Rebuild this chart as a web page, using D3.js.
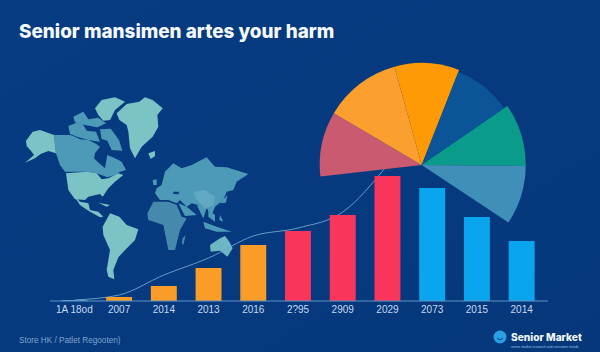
<!DOCTYPE html>
<html>
<head>
<meta charset="utf-8">
<script src="https://cdnjs.cloudflare.com/ajax/libs/d3/7.8.5/d3.min.js"></script>
<style>
  html, body { margin: 0; padding: 0; background: #083a80; }
  svg { display: block; }
</style>
</head>
<body>
<svg width="600" height="352"></svg>
<script>
// bar chart data
const years = ['1A 18od', '2007', '2014', '2013', '2016', '2?95', '2909', '2029', '2073', '2015', '2014'];
const barValues = [1, 4, 15, 33, 56, 70, 86, 125, 113, 84, 60];
const barGroups = ['blue', 'orange', 'orange', 'orange', 'orange', 'red', 'red', 'red', 'blue', 'blue', 'blue'];
// thin trend line, stops behind the tallest bar
const trendValues = [1, 6, 26, 43, 65, 73, 89, 136];
// fan chart data (slice sizes and reach)
const sliceValues = [37, 44, 37, 34, 35, 33];
const sliceReach = [102, 102, 102, 100, 104, 104];
const sliceColors = ['#c95a70', '#fb9f2e', '#fe9a05', '#0b5498', '#0b9b8b', '#3f8fb8'];

// world map outlines, traced in three pieces. each piece has its own origin
const northLight = [
  [[18,152],[38,125],[60,120],[102,135],[108,190],[85,183],[62,192],[45,205],[15,218],[42,195],[35,185],[20,168]], // alaska
  [[225,55],[245,30],[285,22],[315,35],[285,60],[270,90],[250,92],[235,75]], // baffin
  [[290,70],[320,42],[358,35],[375,22],[398,30],[428,55],[412,75],[415,110],[398,140],[365,170],[345,205],[330,175],[325,125],[320,105],[298,90]], // greenland
  [[385,190],[405,183],[405,198],[392,207]], // iceland
  [[138,250],[200,245],[230,250],[245,268],[265,265],[295,250],[310,255],[285,275],[265,295],[248,320],[240,312],[205,320],[195,330],[165,328],[145,300]] // usa
];
const northMid = [
  [[102,135],[150,135],[165,140],[180,148],[205,150],[225,160],[240,170],[225,190],[222,205],[240,222],[255,235],[262,195],[285,205],[305,215],[318,240],[300,245],[285,255],[262,262],[230,250],[200,245],[135,245],[120,225],[108,190]], // canada
  [[145,108],[175,96],[190,105],[200,122],[228,125],[240,155],[205,150],[175,142],[150,132]], // arctic islands
  [[160,80],[190,65],[205,88],[235,83],[258,100],[232,112],[195,105],[165,97]],
  [[240,118],[272,116],[297,150],[307,182],[275,180],[262,152],[245,147]]
];
const southLight = [
  [[128,170],[150,130],[178,140],[200,165],[235,178],[225,210],[195,240],[175,262],[160,300],[163,328],[145,320],[140,300],[150,240],[130,195]], // south america
  [[40,75],[60,95],[85,100],[90,120],[115,125],[130,140],[120,142],[90,125],[60,105]], // central america
  [[115,98],[150,105],[140,110]] // cuba
];
const eastMid = [
  [[50,115],[65,105],[75,65],[100,40],[125,55],[155,45],[200,22],[225,50],[260,52],[325,72],[290,95],[280,120],[260,125],[250,150],[225,170],[215,195],[200,175],[185,195],[175,165],[155,160],[140,170],[120,150],[110,160],[85,150],[60,150],[45,130]], // eurasia
  [[115,160],[140,170],[170,195],[135,198]], // arabia
  [[170,165],[200,175],[190,205]], // india
  [[205,180],[225,195],[225,215],[205,200]], // south east asia
  [[190,215],[230,230],[275,245],[230,245],[195,235]], // indonesia
  [[240,195],[250,215],[238,210]],
  [[240,160],[262,135],[258,158]], // japan
  [[38,90],[50,88],[50,105],[40,105]] // britain
];
const eastDark = [
  [[22,190],[40,155],[85,155],[110,165],[125,200],[140,205],[120,240],[105,300],[85,300],[75,250],[70,225],[25,210]], // africa
  [[128,265],[137,255],[130,285],[125,280]] // madagascar
];
const eastPale = [
  [[160,125],[195,120],[225,140],[220,165],[195,175],[170,150]] // china
];
const eastLight = [
  [[210,285],[240,265],[255,258],[268,275],[278,295],[262,320],[240,302],[212,305]] // australia
];
const seaHoles = [
  [[100,125],[118,125],[115,133],[100,132]] // black sea
];

const svg = d3.select('svg');
const width = 600;
const height = 352;

// background
const defs = svg.append('defs');
const bg = defs.append('linearGradient').attr('id', 'bg').attr('x1', 0).attr('y1', 0).attr('x2', 1).attr('y2', 1);
bg.append('stop').attr('offset', '0%').attr('stop-color', '#073c82');
bg.append('stop').attr('offset', '100%').attr('stop-color', '#06377b');
defs.append('filter').attr('id', 'soft').append('feGaussianBlur').attr('stdDeviation', 0.4);
svg.append('rect').attr('width', width).attr('height', height).attr('fill', 'url(#bg)');

// title
svg.append('text').attr('x', 19).attr('y', 37.5)
  .text('Senior mansimen artes your harm')
  .style('font-family', 'Inter, "Open Sans", sans-serif')
  .style('font-weight', '800').style('font-size', '18.9px').style('fill', '#f4f8fb');

// map
const map = svg.append('g').attr('filter', 'url(#soft)');
function drawLand(shapes, color, originX, originY) {
  const mapX = d3.scaleLinear().domain([0, 3]).range([originX, originX + 1]);
  const mapY = d3.scaleLinear().domain([0, 3]).range([originY, originY + 1]);
  const outline = d3.line().x(d => mapX(d[0])).y(d => mapY(d[1])).curve(d3.curveLinearClosed);
  map.selectAll(null).data(shapes).enter().append('path')
    .attr('d', outline).attr('fill', color);
}
drawLand(northMid, '#4d9ab8', 20, 90);
drawLand(northLight, '#7cc3c6', 20, 90);
drawLand(southLight, '#7cc3c6', 60, 170);
drawLand(eastMid, '#4d9ab8', 140, 150);
drawLand(eastDark, '#4489ad', 140, 150);
drawLand(eastPale, '#63a8c2', 140, 150);
drawLand(eastLight, '#6db6c4', 140, 150);
drawLand(seaHoles, '#073a80', 140, 150);

// bars
const x = d3.scaleBand().domain(d3.range(years.length)).range([52, 544]).paddingInner(0.42).paddingOuter(0.21);
const y = d3.scaleLinear().domain([0, 125]).range([301, 176]);
const barColor = d3.scaleOrdinal().domain(['orange', 'red', 'blue']).range(['#f99c28', '#f9355c', '#0aa5ef']);

// trend line behind the bars
const trend = d3.line().x((d, i) => x(i) + x.bandwidth() / 2).y(d => y(d)).curve(d3.curveMonotoneX);
svg.append('path').datum(trendValues).attr('d', trend)
  .attr('fill', 'none').attr('stroke', '#6fa6cf').attr('stroke-width', 0.9);

svg.selectAll('.bar').data(barValues).enter().append('rect')
  .attr('class', 'bar')
  .attr('x', (d, i) => x(i)).attr('width', x.bandwidth())
  .attr('y', d => y(d)).attr('height', d => y(0) - y(d))
  .attr('fill', (d, i) => i === 0 ? '#5ea6cf' : barColor(barGroups[i]));

// axis, the line runs a bit past the band range
const axis = d3.axisBottom(x).tickSize(0).tickPadding(5).tickFormat(i => years[i]);
const axisG = svg.append('g').attr('transform', 'translate(0,301)').call(axis);
axisG.select('.domain').attr('d', 'M50,0H548').attr('stroke', '#5f93c4').attr('stroke-width', 1);
axisG.selectAll('text')
  .style('font-family', '"Liberation Sans", sans-serif')
  .style('font-size', '10px').style('fill', '#c6d9ee');

// fan chart
const pie = d3.pie().sort(null).value(d => d)
  .startAngle(-96.5 * Math.PI / 180).endAngle(123.5 * Math.PI / 180);
const arc = d3.arc().innerRadius(0).outerRadius((d, i) => sliceReach[i]);
svg.append('g').attr('transform', 'translate(421.7,165)')
  .selectAll('path').data(pie(sliceValues)).enter().append('path')
  .attr('d', arc).attr('fill', (d, i) => sliceColors[i]);

// source note
svg.append('text').attr('x', 19).attr('y', 342.5)
  .text('Store HK / Patlet Regooten)')
  .style('font-family', '"Liberation Sans", sans-serif')
  .style('font-size', '8.2px').style('fill', '#7da7cf');

// logo
svg.append('circle').attr('cx', 500).attr('cy', 337).attr('r', 6.5).attr('fill', '#2a9fe2');
svg.append('path').attr('transform', 'translate(500,337)')
  .attr('d', d3.arc().innerRadius(2.2).outerRadius(3.2).startAngle(Math.PI * 0.62).endAngle(Math.PI * 1.38)())
  .attr('fill', '#0b4f96');
svg.append('text').attr('x', 511).attr('y', 341)
  .text('Senior Market')
  .style('font-family', 'Inter, "Open Sans", sans-serif')
  .style('font-weight', '800').style('font-size', '10.2px').style('fill', '#f0f6fb');
svg.append('text').attr('x', 511).attr('y', 347.5)
  .text('senior market research and consumer trends')
  .style('font-family', '"Liberation Sans", sans-serif')
  .style('font-size', '3.4px').style('fill', '#9cc4e6');
</script>
</body>
</html>
